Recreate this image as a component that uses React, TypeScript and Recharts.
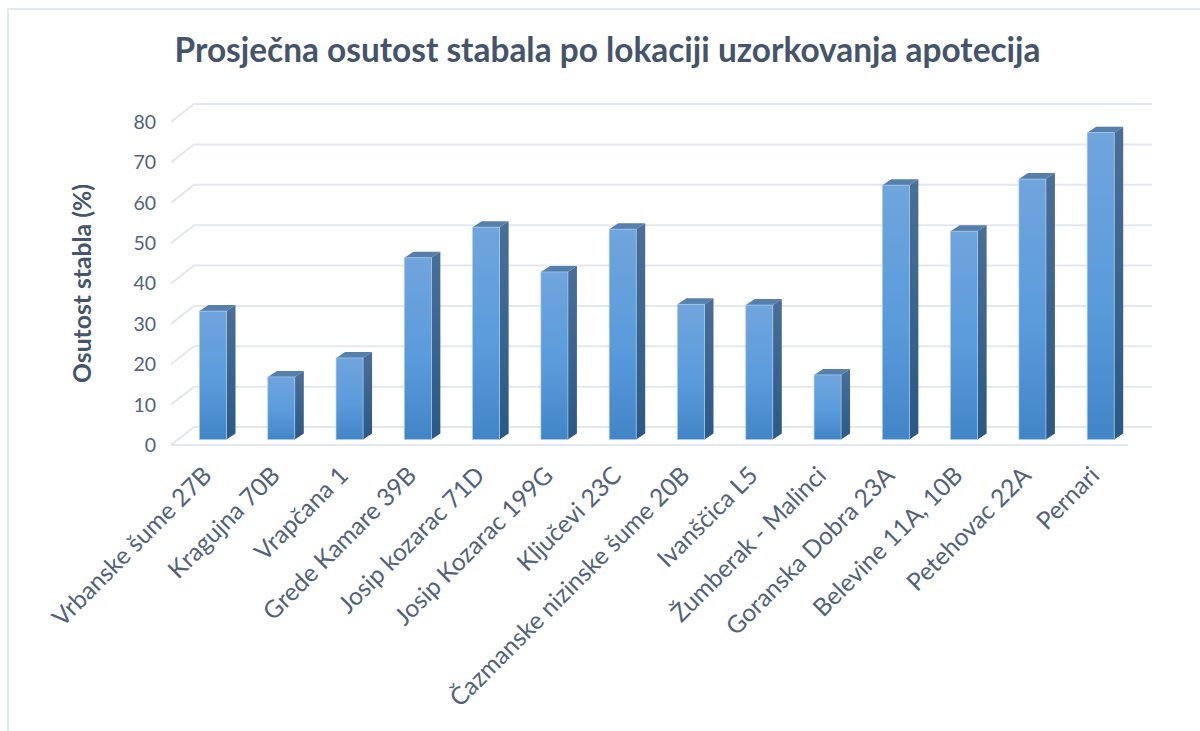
import React from "react";
import { BarChart, Bar, XAxis, YAxis, CartesianGrid } from "recharts";

const categories = ["Vrbanske šume 27B","Kragujna 70B","Vrapčana 1","Grede Kamare 39B","Josip kozarac 71D","Josip Kozarac 199G","Ključevi 23C","Čazmanske nizinske šume 20B","Ivanščica L5","Žumberak - Malinci","Goranska Dobra 23A","Belevine 11A, 10B","Petehovac 22A","Pernari"];
const values = [31.8,15.5,20.2,45,52.6,41.5,52.1,33.5,33.3,16,63,51.6,64.5,76];
const yTicks = [0,10,20,30,40,50,60,70,80];
const chartTitle = "Prosječna osutost stabala po lokaciji uzorkovanja apotecija";
const yTitle = "Osutost stabla (%)";
const data = categories.map((name, i) => ({ name, value: values[i] }));

const FONT = "Lato, Carlito, sans-serif";
const TEXT = "#44546a";
const TICK = "#51627a";
const GRID = "#e3e7ee";
const DEPTH_X = 24, DEPTH_Y = 18;

const Bar3D = (p: any) => {
  const sx = 7.5, sy = -5.5, dx = 9, dy = -6;
  const x = p.x + sx, y = p.y + sy, w = p.width, h = p.height;
  return (
    <g>
      <polygon points={`${x},${y} ${x + w},${y} ${x + w + dx},${y + dy} ${x + dx},${y + dy}`} fill="#5580ac" />
      <polygon points={`${x + w},${y} ${x + w + dx},${y + dy} ${x + w + dx},${y + h + dy} ${x + w},${y + h}`} fill="url(#sideGrad)" />
      <rect x={x} y={y} width={w} height={h} fill="url(#frontGrad)" stroke="#a9c9ea" strokeWidth={0.7} />
    </g>
  );
};

const GridLine = (p: any) => {
  const { x1, x2, y1 } = p;
  const by = y1 - DEPTH_Y;
  return (
    <g>
      <path d={`M${x1},${y1} L${x1 + DEPTH_X - 1},${by} L${x2 + DEPTH_X + 1},${by}`} fill="none" stroke={GRID} strokeWidth={2} />
      {y1 > 440 && <path d={`M${x1},${y1} L${x2 + 1},${y1}`} fill="none" stroke={GRID} strokeWidth={2} />}
    </g>
  );
};

const XTick = (p: any) => (
  <text x={p.x + 8} y={p.y + 24} textAnchor="end" fontFamily={FONT} fontSize={24.5} fill={TICK}
    transform={`rotate(-45 ${p.x + 8} ${p.y + 24})`}>{p.payload.value}</text>
);

export default function App() {
  return (
    <div style={{ position: "absolute", left: 0, top: 0, width: 1200, height: 731, background: "#fff", overflow: "hidden" }}>
      <div style={{ position: "absolute", left: 7, top: 8, width: 1300, height: 800, borderLeft: `2px solid ${GRID}`, borderTop: `2px solid ${GRID}` }} />
      <div style={{ position: "absolute", left: 0, top: 29, width: 1215, textAlign: "center", fontFamily: FONT, fontWeight: 700, fontSize: 33.4, color: TEXT, whiteSpace: "nowrap" }}>{chartTitle}</div>
      <div style={{ position: "absolute", left: 0, top: 0 }}>
        <BarChart width={1200} height={731} data={data} margin={{ top: 122, right: 73, bottom: 0, left: 0 }} barCategoryGap="10%">
          <defs>
            <linearGradient id="frontGrad" x1="0" y1="0" x2="0" y2="1">
              <stop offset="0%" stopColor="#70a5dd" />
              <stop offset="55%" stopColor="#5a9bdc" />
              <stop offset="100%" stopColor="#4285c6" />
            </linearGradient>
            <linearGradient id="sideGrad" x1="0" y1="0" x2="0" y2="1">
              <stop offset="0%" stopColor="#4a6f98" />
              <stop offset="100%" stopColor="#2a5985" />
            </linearGradient>
          </defs>
          <CartesianGrid vertical={false} horizontal={GridLine as any} />
          <XAxis dataKey="name" interval={0} height={286} axisLine={false} tickLine={false} tick={XTick as any} />
          <YAxis width={171} domain={[0, 80]} ticks={yTicks} axisLine={false} tickLine={false}
            tick={{ fontFamily: FONT, fontSize: 19.5, fill: TICK }} tickMargin={9}
            label={{ value: yTitle, angle: -90, position: "insideLeft", offset: 82, fontFamily: FONT, fontWeight: 700, fontSize: 24.7, fill: TEXT, style: { textAnchor: "middle" } }} />
          <Bar dataKey="value" barSize={27} shape={Bar3D as any} isAnimationActive={false} />
        </BarChart>
      </div>
    </div>
  );
}
